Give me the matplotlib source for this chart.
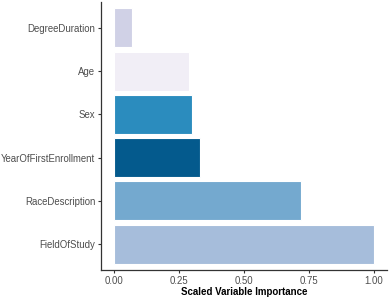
import matplotlib
matplotlib.use("Agg")
import matplotlib.pyplot as plt

plt.rcParams['font.family'] = ['Liberation Sans', 'DejaVu Sans']

# top to bottom
variables = ["DegreeDuration", "Age", "Sex", "YearOfFirstEnrollment", "RaceDescription", "FieldOfStudy"]
importance = [0.07, 0.29, 0.30, 0.33, 0.72, 1.00]
colors = ["#d0d1e6", "#f1eef6", "#2b8cbe", "#045a8d", "#74a9cf", "#a6bddb"]
xticks = [0.0, 0.25, 0.5, 0.75, 1.0]
xtick_labels = ["0.00", "0.25", "0.50", "0.75", "1.00"]

fig = plt.figure(figsize=(3.9, 3.02), dpi=100)
ax = fig.add_axes([101 / 390, 32 / 302, 286 / 390, 268 / 302])

ypos = list(range(len(variables), 0, -1))
ax.barh(ypos, importance, height=0.9, color=colors, edgecolor="white", linewidth=0.8)

ax.set_xlim(-0.05, 1.05)
ax.set_ylim(0.4, len(variables) + 0.6)
ax.set_yticks(ypos)
ax.set_yticklabels(variables)
ax.set_xticks(xticks)
ax.set_xticklabels(xtick_labels)

for s in ["top", "right"]:
    ax.spines[s].set_visible(False)
for s in ["left", "bottom"]:
    ax.spines[s].set_color("#333333")
    ax.spines[s].set_linewidth(0.9)

ax.tick_params(axis="both", colors="#333333", labelcolor="#4d4d4d", labelsize=6.9, length=2.5, width=0.8, pad=1.5)
ax.set_xlabel("Scaled Variable Importance", fontsize=7.0, fontweight="bold", labelpad=1)

fig.savefig("out.png", dpi=100)
